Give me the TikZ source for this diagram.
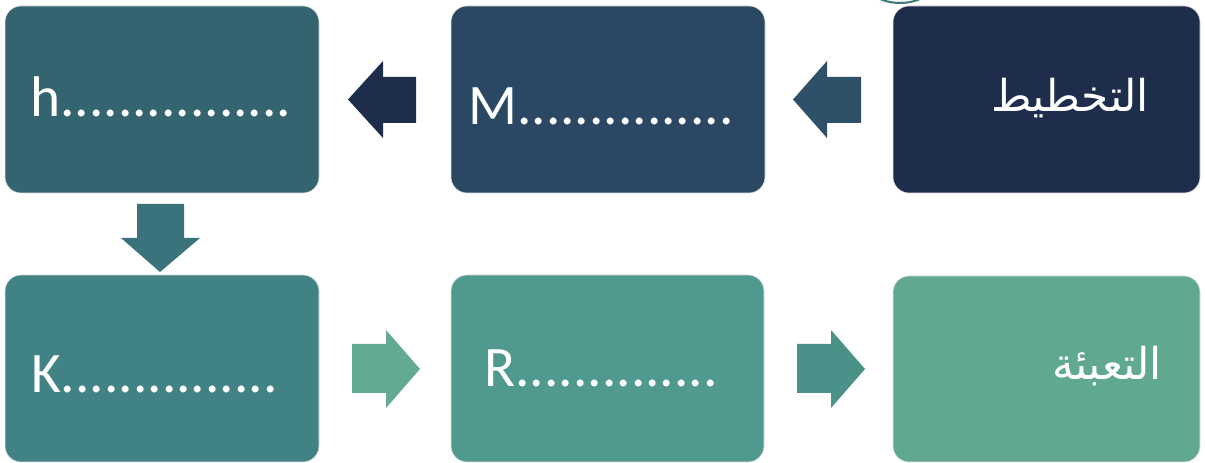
\documentclass[tikz,border=0pt]{standalone}
\usepackage{fontspec}
\setmainfont{Carlito}
\newfontfamily\arabicfont[Script=Arabic]{DejaVu Sans}
\TeXXeTstate=1
\definecolor{cH}{HTML}{356471}
\definecolor{cM}{HTML}{2A4863}
\definecolor{cT}{HTML}{1F2D4D}
\definecolor{cK}{HTML}{418284}
\definecolor{cR}{HTML}{4F998F}
\definecolor{cF}{HTML}{61A891}
\definecolor{aOne}{HTML}{2E5169}
\definecolor{aTwo}{HTML}{1F2D4D}
\definecolor{aDown}{HTML}{3A737B}
\definecolor{aKR}{HTML}{62AA92}
\definecolor{aRF}{HTML}{4A9189}
\definecolor{arcc}{HTML}{3D7A7A}
\begin{document}
\begin{tikzpicture}[x=1bp,y=-1bp,
  boxst/.style={draw=black!12,line width=0.6bp,rounded corners=16bp},
  lbl/.style={anchor=base west,inner sep=0pt,text=white,font=\fontsize{57.5}{60}\selectfont},
  arl/.style={anchor=base,inner sep=0pt,text=white,font=\arabicfont\fontsize{44}{50}\selectfont}]
\useasboundingbox (0,0) rectangle (1205,463);
% partial arc at top
\begin{scope}
\clip (0,0) rectangle (1205,463);
\draw[arcc,line width=2bp,fill=black!4] (942,-30) arc[start angle=0,end angle=180,x radius=42,y radius=33];
\end{scope}
% boxes
\fill[cH,boxst] (5,6) rectangle (319,193);
\fill[cM,boxst] (451,6) rectangle (765,193);
\fill[cT,boxst] (893,6) rectangle (1200,193);
\fill[cK,boxst] (5,275) rectangle (319,462);
\fill[cR,boxst] (451,275) rectangle (764,462);
\fill[cF,boxst] (893,276) rectangle (1200,462);
% texts
\node[lbl] (tH) at (30,117) {h................};
\node[lbl] (tM) at (468,125) {M...............};
\node[lbl] (tK) at (31,393) {K...............};
\node[lbl] (tR) at (484,387) {R..............};
\node[arl] (tT) at (1070,112) {\beginR التخطيط\endR};
\node[arl] (tF) at (1107,380) {\beginR التعبئة\endR};
% block arrows
\fill[aOne] (793,99.5) -- (827,61) -- (827,77) -- (861,77) -- (861,123) -- (827,123) -- (827,138) -- cycle;
\fill[aTwo] (348,99.5) -- (383,61) -- (383,77) -- (416,77) -- (416,123) -- (383,123) -- (383,138) -- cycle;
\fill[aDown] (160,272) -- (121,238) -- (137,238) -- (137,204) -- (184,204) -- (184,238) -- (200,238) -- cycle;
\fill[aKR] (420,369) -- (386,330) -- (386,344) -- (352,344) -- (352,393) -- (386,393) -- (386,408) -- cycle;
\fill[aRF] (865,369) -- (831,330) -- (831,344) -- (797,344) -- (797,393) -- (831,393) -- (831,408) -- cycle;
\end{tikzpicture}
\end{document}
